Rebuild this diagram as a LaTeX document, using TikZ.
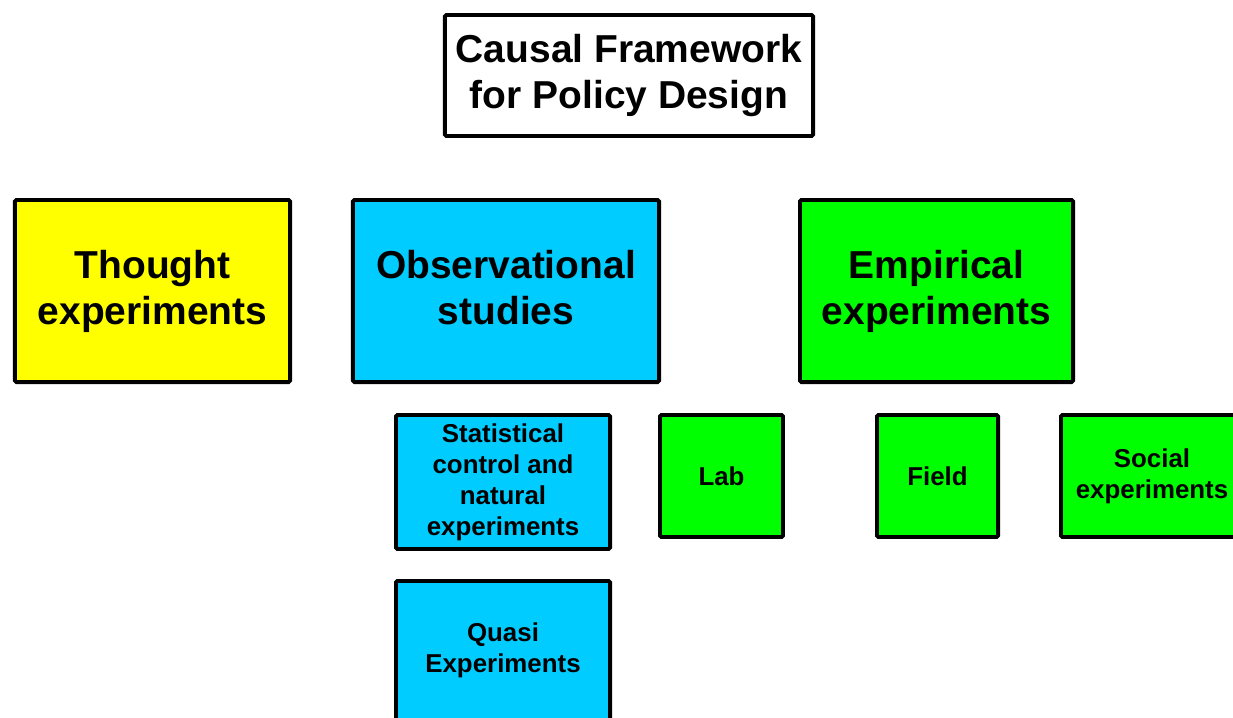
\documentclass[tikz,border=0pt]{standalone}
\usepackage{fontspec}
\setmainfont{Liberation Sans}
\usepackage{tikz}

\definecolor{boxyellow}{RGB}{255,255,0}
\definecolor{boxcyan}{RGB}{0,204,255}
\definecolor{boxgreen}{RGB}{0,255,0}

\tikzset{
  box/.style={draw=black, line width=2.8pt, rounded corners=1pt, inner sep=0pt,
    align=center, font=\bfseries\fontsize{27.7}{32.7}\selectfont},
  smallbox/.style={box, font=\bfseries\fontsize{18.4}{22}\selectfont}
}

\begin{document}
\begin{tikzpicture}[x=0.025cm, y=-0.025cm]
  \useasboundingbox (0,0) rectangle (1233,717); % crop: quasi and social boxes run off the edge
  \fill[white] (0,0) rectangle (1233,717);
  % heading
  \node[box, fill=white, minimum width=9.2cm, minimum height=3.025cm] (framework) at (629,75.5)
    {Causal Framework\\for Policy Design};
  % the three main approaches
  \node[box, fill=boxyellow, minimum width=6.875cm, minimum height=4.55cm] (thought) at (152.5,291)
    {Thought\\experiments};
  \node[box, fill=boxcyan, minimum width=7.65cm, minimum height=4.55cm] (observational) at (506,291)
    {Observational\\studies\vphantom{p}};
  \node[box, fill=boxgreen, minimum width=6.825cm, minimum height=4.55cm] (empirical) at (936.5,291)
    {Empirical\\experiments};
  % observational sub-types
  \node[smallbox, fill=boxcyan, minimum width=5.35cm, minimum height=3.35cm] (statcontrol) at (503,482)
    {Statistical\\control and\\natural\\experiments};
  \node[smallbox, fill=boxcyan, minimum width=5.35cm, minimum height=3.475cm] (quasi) at (503,650.5)
    {Quasi\\Experiments};
  % empirical sub-types
  \node[smallbox, fill=boxgreen, minimum width=3.075cm, minimum height=3.05cm] (lab) at (721.5,476)
    {Lab};
  \node[smallbox, fill=boxgreen, minimum width=3.025cm, minimum height=3.05cm] (field) at (937.5,476)
    {Field};
  \node[smallbox, fill=boxgreen, minimum width=4.55cm, minimum height=3.05cm] (social) at (1152,476)
    {Social\\experiments};
\end{tikzpicture}
\end{document}
